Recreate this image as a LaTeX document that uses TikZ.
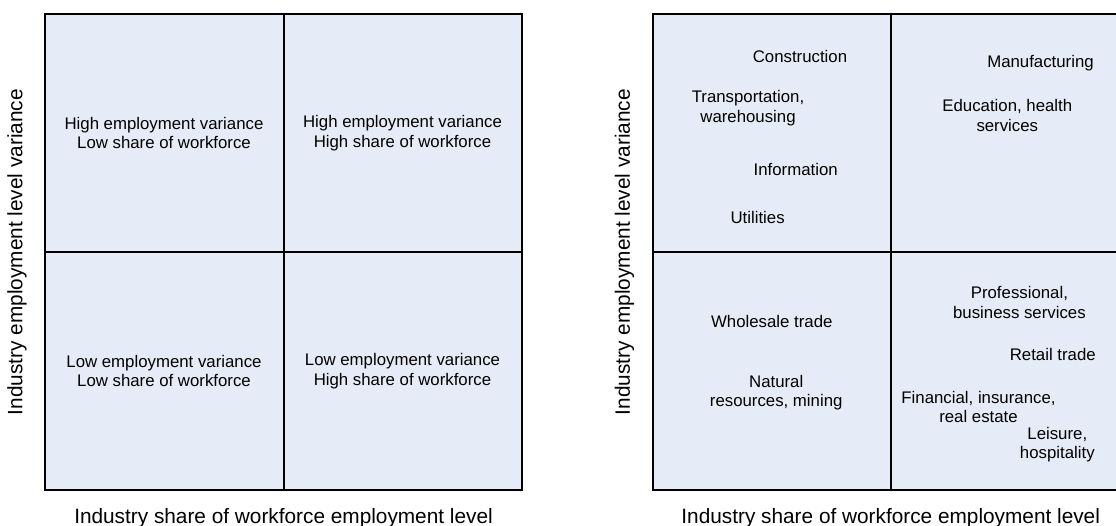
\documentclass[tikz,border=0pt]{standalone}
\usepackage{fontspec}
\setmainfont{Liberation Sans}
\definecolor{quadfill}{RGB}{230,236,247}
\begin{document}
\begin{tikzpicture}[x=1pt,y=-1pt,
  panel/.style={draw=black,line width=2pt,fill=quadfill},
  divider/.style={draw=black,line width=2pt},
  cell/.style={align=center,font=\fontsize{16.8}{19.5}\selectfont,inner sep=0pt},
  axislabel/.style={font=\fontsize{20.8}{24}\selectfont,inner sep=0pt}]
\useasboundingbox (0,0) rectangle (1116,525);
\clip (0,0) rectangle (1116,525);

% ---------- left panel: quadrant definitions ----------
\draw[panel] (45,14) rectangle (522,490);
\draw[divider] (283.5,14) -- (283.5,490);
\draw[divider] (45,252) -- (522,252);

\node[cell] (hl) at (164,133) {High employment variance\\Low share of workforce};
\node[cell] (hh) at (402.5,133) {High employment variance\\High share of workforce};
\node[cell] (ll) at (164,371) {Low employment variance\\Low share of workforce};
\node[cell] (lh) at (402.5,371) {Low employment variance\\High share of workforce};

\node[axislabel,rotate=90] (yleft) at (17,252) {Industry employment level variance};
\node[axislabel,anchor=base] (xleft) at (283.5,523) {Industry share of workforce employment level};

% ---------- right panel: industries placed in quadrants ----------
\draw[panel] (653,14) rectangle (1128,490);
\draw[divider] (890.7,14) -- (890.7,490);
\draw[divider] (653,252) -- (1128,252);

\node[cell] (constr) at (800,56) {Construction};
\node[cell] (transp) at (748,108.3) {Transportation,\\warehousing};
\node[cell] (info) at (795.7,169.4) {Information};
\node[cell] (util) at (757.6,217) {Utilities};
\node[cell] (manuf) at (1040.5,63.3) {Manufacturing};
\node[cell] (educ) at (1007.3,115.5) {Education, health\\services};
\node[cell] (whole) at (771.8,321.7) {Wholesale trade};
\node[cell] (natres) at (776.2,392.6) {Natural\\resources, mining};
\node[cell] (prof) at (1019.4,302.3) {Professional,\\business services};
\node[cell] (retail) at (1052.8,354.6) {Retail trade};
\node[cell] (fin) at (978.5,407) {Financial, insurance,\\real estate};
\node[cell] (leis) at (1057.3,444.6) {Leisure,\\hospitality};

\node[axislabel,rotate=90] (yright) at (624.4,252) {Industry employment level variance};
\node[axislabel,anchor=base] (xright) at (890.7,523) {Industry share of workforce employment level};
\end{tikzpicture}
\end{document}
